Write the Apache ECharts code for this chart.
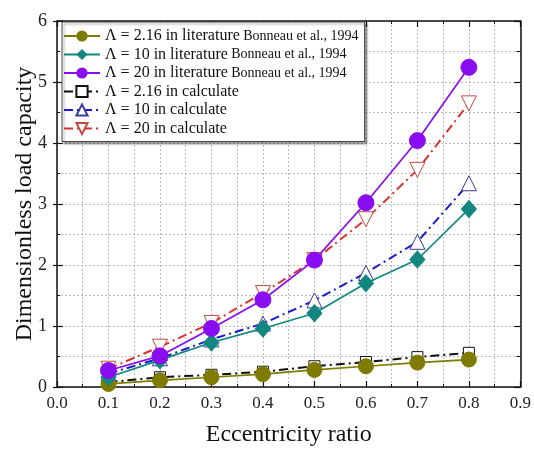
<!DOCTYPE html>
<html>
<head>
<meta charset="utf-8">
<script src="https://cdn.jsdelivr.net/npm/echarts@6/dist/echarts.min.js"></script>
<style>
  html, body { margin: 0; padding: 0; background: #fff; }
  #chart { width: 534px; height: 452px; }
</style>
</head>
<body>
<div id="chart"></div>
<script>
// Eccentricity ratios shared by every series
const eccentricity = [0.1, 0.2, 0.3, 0.4, 0.5, 0.6, 0.7, 0.8];

// Dimensionless load capacity, Bonneau et al., 1994
const lit216 = [0.05, 0.11, 0.16, 0.21, 0.28, 0.34, 0.40, 0.45];
const lit10  = [0.16, 0.44, 0.73, 0.96, 1.21, 1.70, 2.09, 2.92];
const lit20  = [0.27, 0.51, 0.96, 1.43, 2.08, 3.02, 4.04, 5.24];

// Dimensionless load capacity, calculated
const calc216 = [0.08, 0.16, 0.20, 0.25, 0.34, 0.41, 0.49, 0.56];
const calc10  = [0.22, 0.47, 0.78, 1.04, 1.42, 1.87, 2.38, 3.34];
const calc20  = [0.30, 0.66, 1.05, 1.54, 2.08, 2.75, 3.56, 4.65];

const xTicks = ['0.0', '0.1', '0.2', '0.3', '0.4', '0.5', '0.6', '0.7', '0.8', '0.9'];
const yTicks = ['0', '1', '2', '3', '4', '5', '6'];

const serif = '"Liberation Serif", "DejaVu Serif", serif';
const dashDot = [9, 4, 2, 4];

function pairs(ys) { return eccentricity.map((x, i) => [x, ys[i]]); }

function litSeries(name, ys, color, symbol, size) {
  return {
    name, type: 'line', data: pairs(ys), z: 4,
    symbol, symbolSize: size,
    lineStyle: { color, width: 1.7 },
    itemStyle: { color, borderColor: color }
  };
}
function calcSeries(name, ys, color, symbol, size, rotate) {
  return {
    name, type: 'line', data: pairs(ys), z: 3,
    symbol, symbolSize: size, symbolRotate: rotate || 0,
    lineStyle: { color, width: 2, type: dashDot },
    itemStyle: { color: '#fff', borderColor: color, borderWidth: 1 }
  };
}

const names = [
  'Λ = 2.16 in literature|Bonneau et al., 1994',
  'Λ = 10 in literature|Bonneau et al., 1994',
  'Λ = 20 in literature|Bonneau et al., 1994',
  'Λ = 2.16 in calculate',
  'Λ = 10 in calculate',
  'Λ = 20 in calculate'
];

const series = [
  calcSeries(names[3], calc216, '#111111', 'rect', 11),
  calcSeries(names[4], calc10, '#1a1acc', 'triangle', 15),
  calcSeries(names[5], calc20, '#d8322c', 'triangle', 15, 180),
  litSeries(names[0], lit216, '#7f7a00', 'circle', 15),
  litSeries(names[1], lit10, '#12877f', 'diamond', [15, 17]),
  litSeries(names[2], lit20, '#8a0cf0', 'circle', 16)
];
// open symbols: triangle borders slightly softer
series[1].itemStyle.borderColor = '#3a3aa0';
series[2].itemStyle.borderColor = '#c04a40';

const chart = echarts.init(document.getElementById('chart'), null, { renderer: 'canvas' });

const frameLine = { show: true, onZero: false, lineStyle: { color: '#111', width: 1.5 } };
const majorIn = { show: true, inside: true, length: 6, lineStyle: { color: '#111', width: 1.2 } };
const minorIn = { show: true, splitNumber: 2, length: 3, lineStyle: { color: '#111', width: 1 } };
const dotted = { show: true, lineStyle: { color: '#bbb', type: [2, 2], width: 1 } };

chart.setOption({
  animation: false,
  backgroundColor: '#fff',
  grid: { left: 57, right: 12, top: 21, bottom: 58, containLabel: false },
  legend: {
    data: names,
    orient: 'vertical',
    left: 62, top: 22,
    padding: [6, 6, 5, 1],
    itemWidth: 36, itemHeight: 14, itemGap: 2.5,
    backgroundColor: '#fff',
    borderColor: '#444', borderWidth: 1,
    shadowColor: 'rgba(0,0,0,0.35)', shadowBlur: 2, shadowOffsetX: 2, shadowOffsetY: 2,
    formatter: function (n) {
      const p = n.split('|');
      return p.length > 1 ? '{a|' + p[0] + '} {b|' + p[1] + '}' : '{a|' + p[0] + '}';
    },
    textStyle: {
      rich: {
        a: { fontFamily: serif, fontSize: 16, lineHeight: 18, color: '#111' },
        b: { fontFamily: serif, fontSize: 14, lineHeight: 18, color: '#111' }
      }
    }
  },
  xAxis: [{
    type: 'value', min: 0, max: 0.9, interval: 0.1,
    name: 'Eccentricity ratio', nameLocation: 'middle', nameGap: 36, nameMoveOverlap: false,
    nameTextStyle: { fontFamily: serif, fontSize: 24, color: '#111' },
    axisLine: frameLine, axisTick: majorIn, minorTick: minorIn,
    axisLabel: {
      fontFamily: serif, fontSize: 17, color: '#222', margin: 8,
      formatter: v => xTicks[Math.round(v * 10)]
    },
    splitLine: dotted, minorSplitLine: dotted
  }, {
    type: 'value', position: 'top', min: 0, max: 0.9, interval: 0.1,
    axisLine: frameLine, axisTick: majorIn, minorTick: minorIn,
    axisLabel: { show: false }, splitLine: { show: false }
  }],
  yAxis: [{
    type: 'value', min: 0, max: 6, interval: 1,
    name: 'Dimensionless load capacity', nameLocation: 'middle', nameGap: 20, nameMoveOverlap: false,
    nameTextStyle: { fontFamily: serif, fontSize: 24, color: '#111' },
    axisLine: frameLine, axisTick: majorIn, minorTick: minorIn,
    axisLabel: {
      fontFamily: serif, fontSize: 18, color: '#222', margin: 10,
      formatter: v => yTicks[Math.round(v)]
    },
    splitLine: dotted, minorSplitLine: dotted
  }, {
    type: 'value', position: 'right', min: 0, max: 6, interval: 1,
    axisLine: frameLine, axisTick: majorIn,
    minorTick: { show: true, splitNumber: 2, length: 4, lineStyle: { color: '#111', width: 1 } },
    axisLabel: { show: false }, splitLine: { show: false }
  }, {
    // outer half of the left major ticks
    type: 'value', position: 'left', min: 0, max: 6, interval: 1,
    axisLine: { show: false },
    axisTick: { show: true, inside: false, length: 4, lineStyle: { color: '#111', width: 1.2 } },
    axisLabel: { show: false }, splitLine: { show: false }
  }],
  series: series
});
</script>
</body>
</html>
